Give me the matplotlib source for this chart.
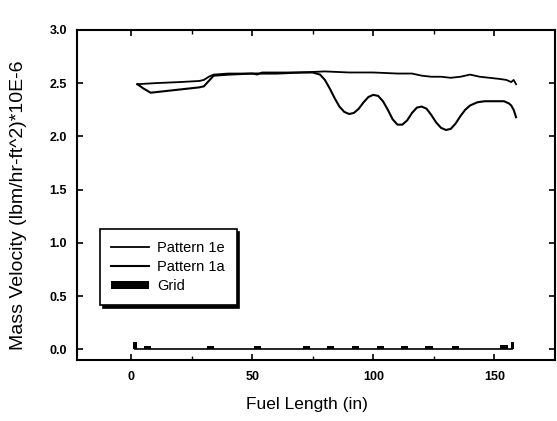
import numpy as np
import matplotlib.pyplot as plt

plt.rc('font', family=['Liberation Sans', 'DejaVu Sans'])
plt.rc('axes', linewidth=1.5)
plt.rc('xtick.major', size=4, width=1.2, pad=8)
plt.rc('ytick.major', size=4, width=1.2, pad=7)
plt.rc('xtick.minor', size=3, width=1.0)

# Pattern 1a (wavy curve)
x_1a = [2.5, 5, 8, 12, 20, 28, 30, 32, 34, 40, 50, 60, 70, 75, 78, 80, 82, 84, 86, 88,
        90, 92, 94, 96, 98, 100, 102, 104, 106, 108, 110, 112, 114, 116, 118, 120, 122,
        124, 126, 128, 130, 132, 134, 136, 138, 140, 143, 146, 150, 154, 156, 157, 158, 159]
y_1a = [2.49, 2.45, 2.41, 2.42, 2.44, 2.46, 2.47, 2.52, 2.57, 2.58, 2.59, 2.59, 2.60, 2.60,
        2.58, 2.53, 2.45, 2.36, 2.28, 2.23, 2.21, 2.22, 2.26, 2.32, 2.37, 2.39, 2.38, 2.33,
        2.25, 2.16, 2.11, 2.11, 2.15, 2.22, 2.27, 2.28, 2.26, 2.20, 2.13, 2.08, 2.06, 2.07,
        2.12, 2.19, 2.25, 2.29, 2.32, 2.33, 2.33, 2.33, 2.31, 2.29, 2.25, 2.18]

# Pattern 1e (nearly flat curve)
x_1e = [2.5, 10, 20, 28, 30, 32, 34, 40, 50, 52, 54, 60, 70, 80, 90, 100, 110, 116, 120,
        124, 128, 132, 136, 140, 144, 148, 152, 155, 157, 158, 159]
y_1e = [2.49, 2.50, 2.51, 2.52, 2.53, 2.56, 2.58, 2.59, 2.59, 2.58, 2.60, 2.60, 2.60, 2.61,
        2.60, 2.60, 2.59, 2.59, 2.57, 2.56, 2.56, 2.55, 2.56, 2.58, 2.56, 2.55, 2.54, 2.53,
        2.51, 2.53, 2.49]

# grid spacer locations
grid_x = [1.5, 6.8, 32.8, 52, 72.4, 82.4, 92.7, 103, 113, 123, 134, 154, 157.5]
grid_h = [0.07, 0.03, 0.03, 0.03, 0.03, 0.03, 0.03, 0.03, 0.03, 0.03, 0.03, 0.04, 0.07]
grid_w = [1.5, 3, 3, 3, 3, 3, 3, 3, 3, 3, 3, 3, 1.5]

fig = plt.figure(figsize=(5.57, 4.21), dpi=100)
ax = fig.add_axes([0.138, 0.145, 0.858, 0.784])

ax.plot(x_1e, y_1e, color='black', lw=1.3, label='Pattern 1e')
ax.plot(x_1a, y_1a, color='black', lw=1.5, label='Pattern 1a')
ax.plot([grid_x[0], grid_x[-1]], [0, 0], color='black', lw=1.2)
ax.bar(grid_x, grid_h, width=grid_w, bottom=0, color='black', label='Grid')

ax.set_xlim(-22.5, 175)
ax.set_ylim(-0.1, 3.0)
ax.set_xticks([0, 50, 100, 150])
ax.set_xticks([25, 75, 125], minor=True)
ax.set_yticks(np.arange(0, 3.01, 0.5))
ax.tick_params(which='both', direction='in', top=True, right=True, labelsize=9)
for lab in ax.get_yticklabels() + ax.get_xticklabels():
    lab.set_fontweight('bold')

ax.set_xlabel('Fuel Length (in)', fontsize=12.5)
ax.set_ylabel('Mass Velocity (lbm/hr-ft^2)*10E-6', fontsize=14)
ax.xaxis.set_label_coords(0.481, -0.112)
ax.yaxis.set_label_coords(-0.105, 0.47)

leg = ax.legend(loc='lower left', bbox_to_anchor=(0.048, 0.167), fontsize=10.5,
                fancybox=False, edgecolor='black', framealpha=1,
                shadow={'color': 'black', 'alpha': 1, 'ox': 2, 'oy': -2},
                borderpad=0.8, handlelength=2.6, handleheight=0.55,
                handletextpad=0.55, labelspacing=0.35, borderaxespad=0)
leg.get_frame().set_linewidth(1.2)

plt.savefig('out.png', dpi=100)
